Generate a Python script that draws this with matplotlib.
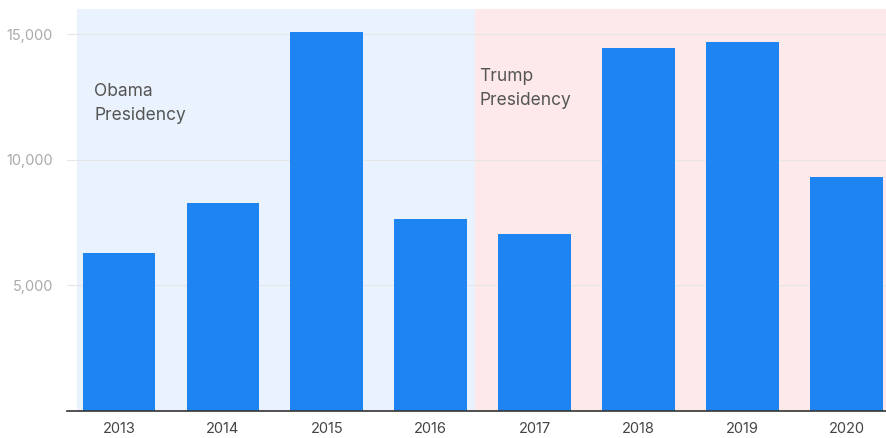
import matplotlib
matplotlib.use("Agg")
import matplotlib.pyplot as plt
from matplotlib.ticker import FuncFormatter

plt.rcParams["font.family"] = ["Inter", "DejaVu Sans"]

years = ["2013", "2014", "2015", "2016", "2017", "2018", "2019", "2020"]
values = [6270, 8290, 15080, 7660, 7060, 14440, 14680, 9320]
yticks = [5000, 10000, 15000]

fig = plt.figure(figsize=(8.86, 4.38), dpi=100)
ax = fig.add_axes([67/886, 27/438, 819/886, 402/438])

x = list(range(len(years)))
ax.axvspan(-0.40, 3.43, color="#eaf2fd", zorder=0, lw=0)
ax.axvspan(3.43, 7.5, color="#fde9e9", zorder=0, lw=0)
for t in yticks:
    ax.axhline(t, color="#e6e6e6", lw=0.8, zorder=1)
ax.bar(x, values, width=0.70, color="#1e84f2", zorder=2)

ax.set_xlim(-0.5, 7.38)
ax.set_ylim(0, 16000)
ax.set_xticks(x)
ax.set_xticklabels(years, fontsize=10.5, color="#444444")
ax.set_yticks(yticks)
ax.yaxis.set_major_formatter(FuncFormatter(lambda v, p: f"{int(v):,}"))
ax.tick_params(axis="y", length=0, labelsize=10.5, labelcolor="#aaaaaa", pad=10)
ax.tick_params(axis="x", length=0, pad=8)
for s in ["top", "right", "left"]:
    ax.spines[s].set_visible(False)
ax.spines["bottom"].set_color("#333333")
ax.spines["bottom"].set_linewidth(1.2)

ax.text(-0.24, 13050, "Obama\nPresidency", fontsize=12.5, color="#555555",
        va="top", ha="left", linespacing=1.55)
ax.text(3.47, 13650, "Trump\nPresidency", fontsize=12.5, color="#555555",
        va="top", ha="left", linespacing=1.55)

fig.savefig("out.png", dpi=100)
